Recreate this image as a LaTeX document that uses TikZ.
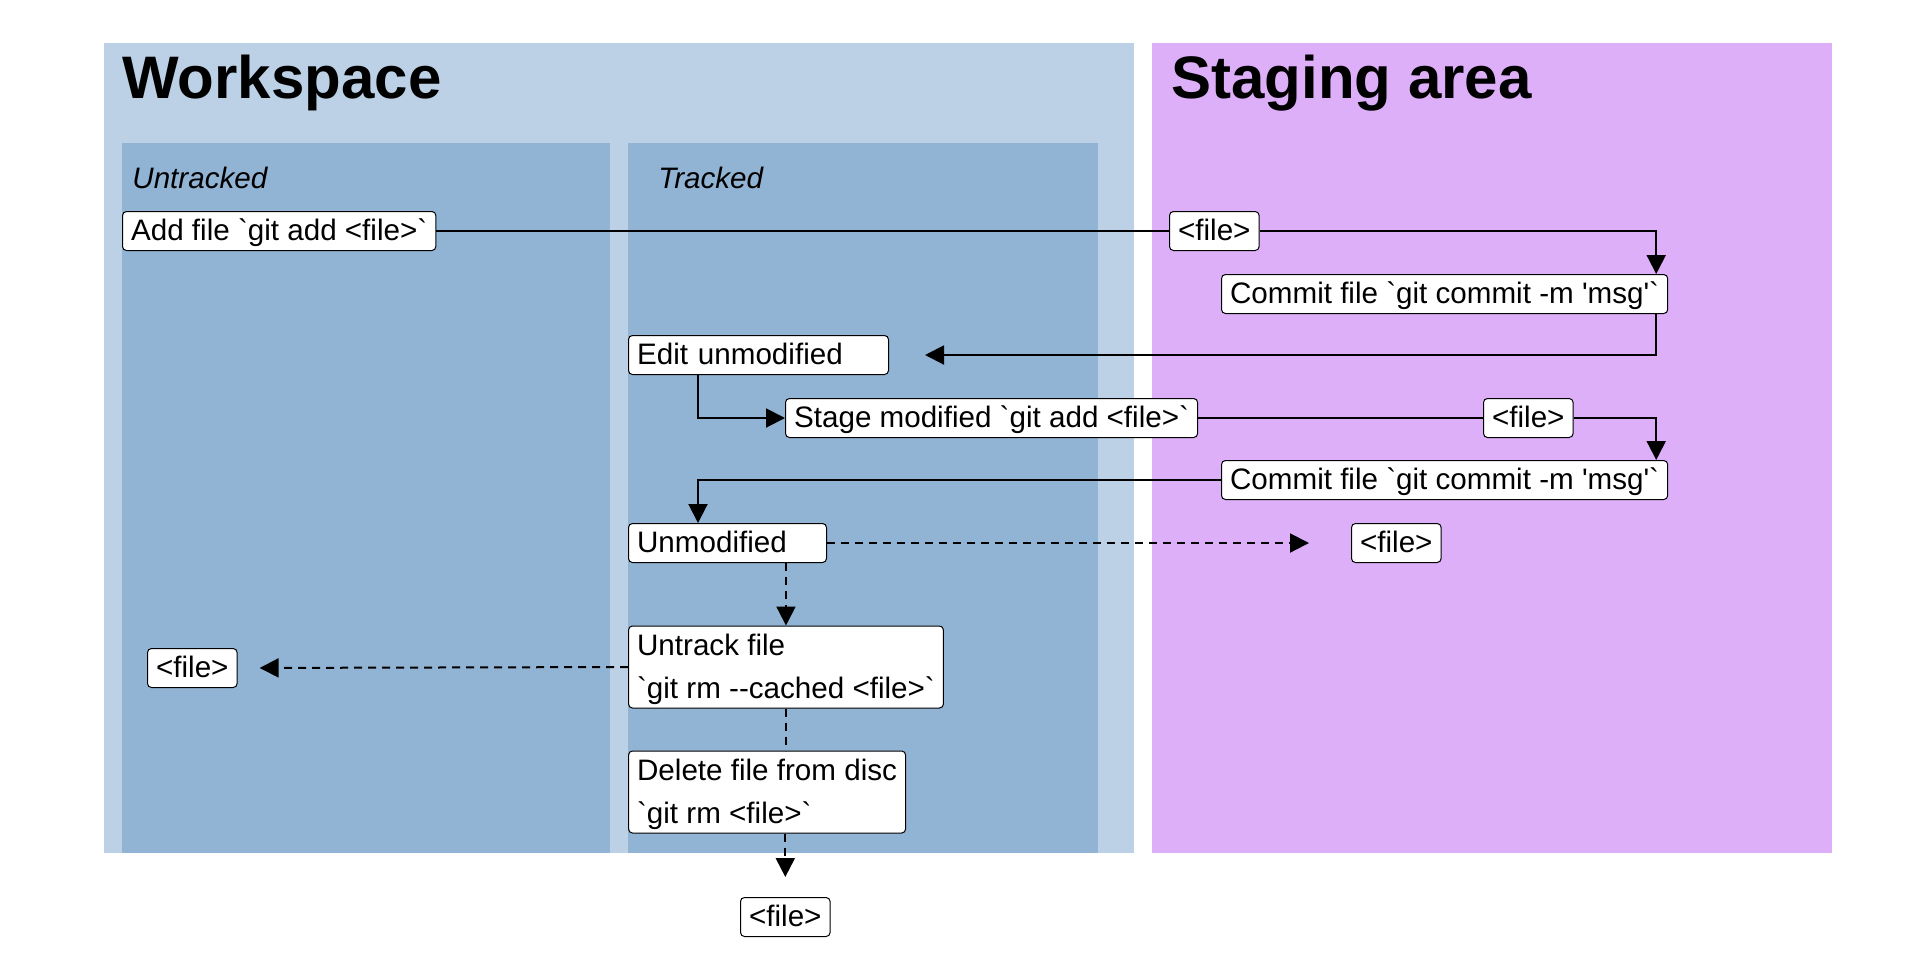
\documentclass[tikz,border=0pt]{standalone}
\usepackage{fontspec}
\newfontfamily\diagfont{Liberation Sans}[Ligatures=TeXOff]
\usetikzlibrary{arrows.meta}
\definecolor{wsblue}{HTML}{BCD1E6}
\definecolor{trkblue}{HTML}{92B4D4}
\definecolor{stgviolet}{HTML}{DDAFF9}

\begin{document}
\begin{tikzpicture}[x=0.5pt, y=-0.5pt,
    box/.style={draw, fill=white, rounded corners=2pt, line width=0.5pt, anchor=west,
      inner xsep=4.3pt, inner ysep=0pt, minimum height=19.5pt, align=left,
      text height=12.5pt, text depth=2.7pt,
      font=\diagfont\fontsize{14.8}{21.5}\selectfont},
    tallbox/.style={box, minimum height=41pt, text height=34pt},
    areatitle/.style={anchor=base west, inner sep=0pt, font=\diagfont\bfseries\fontsize{30}{36}\selectfont},
    subtitle/.style={anchor=base west, inner sep=0pt, font=\diagfont\itshape\fontsize{14.8}{18}\selectfont},
    link/.style={line width=1pt},
    flow/.style={link, -{Triangle[length=9.5pt, width=9.5pt]}},
    weak/.style={flow, dash pattern=on 4pt off 3pt}]
  \useasboundingbox (0,0) rectangle (1920,960);
  % areas
  \fill[wsblue] (104,43) rectangle (1134,853);
  \fill[stgviolet] (1152,43) rectangle (1832,853);
  \foreach \lx/\rx in {122/610, 628/1098}
    \fill[trkblue] (\lx,143) rectangle (\rx,853);
  \node[areatitle] (ws) at (122,98) {Workspace};
  \node[areatitle] (stg) at (1171,98) {Staging area};
  \node[subtitle] (untr) at (132,188) {Untracked};
  \node[subtitle] (tr) at (658,188) {Tracked};
  % states
  \node[box] (addfile) at (122,231) {Add file `git add <file>`};
  \node[box] (stgA) at (1169,231) {<file>};
  \node[box] (commitA) at (1221,294) {Commit file `git commit -m 'msg'`};
  \node[box, text width=121.4pt] (edit) at (628,355) {Edit unmodified};
  \node[box] (stage) at (785,418) {Stage modified `git add <file>`};
  \node[box] (stgB) at (1483,418) {<file>};
  \node[box] (commitB) at (1221,480) {Commit file `git commit -m 'msg'`};
  \node[box, text width=90.4pt] (unmod) at (628,543) {Unmodified};
  \node[box] (stgC) at (1351,543) {<file>};
  \node[tallbox] (untrack) at (628,667) {Untrack file\\`git rm --cached <file>`};
  \node[box] (fileL) at (147,668) {<file>};
  \node[tallbox] (delete) at (628,792) {Delete file from disc\\`git rm <file>`};
  \node[box] (fileB) at (740,917) {<file>};
  % transitions
  \draw[link] (addfile.east) -- (stgA.west);
  \draw[flow] (stgA.east) -| ([xshift=-6pt]commitA.north east);
  \draw[flow, shorten >=18pt] ([xshift=-6pt]commitA.south east) |- (edit.east);
  \draw[flow] ([xshift=35pt]edit.south west) |- (stage.west);
  \draw[link] (stage.east) -- (stgB.west);
  \draw[flow] (stgB.east) -| ([xshift=-6pt]commitB.north east);
  \draw[flow] (commitB.west) -| ([xshift=35pt]unmod.north west);
  \draw[weak, shorten >=21pt] (unmod.east) -- (stgC.west);
  \draw[weak] (unmod.south -| untrack.north) -- (untrack.north);
  \draw[weak, shorten >=11pt] (untrack.west) -- (fileL.east);
  \draw[link, dash pattern=on 4pt off 3pt] (untrack.south) -- (untrack.south |- delete.north);
  \draw[weak, shorten >=10pt] (delete.south -| fileB.north) -- (fileB.north);
\end{tikzpicture}
\end{document}
